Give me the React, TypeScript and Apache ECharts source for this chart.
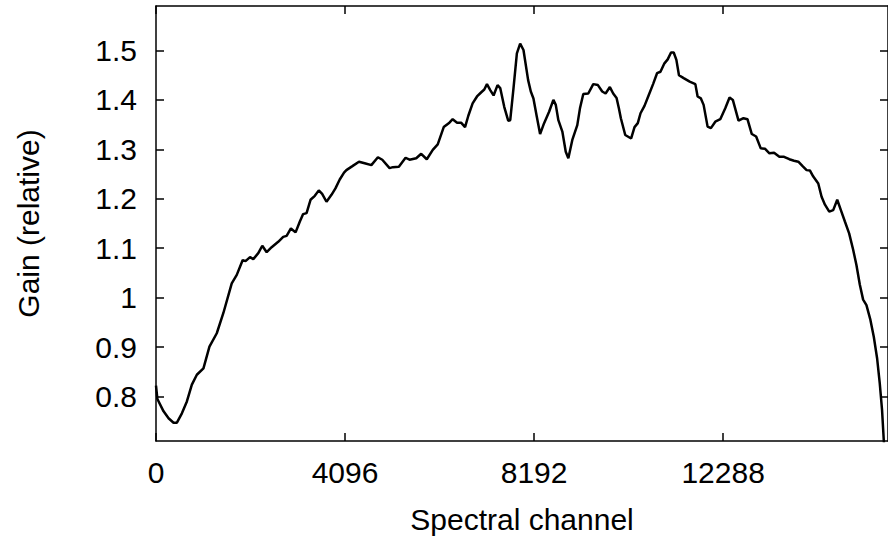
import React, { useEffect, useRef } from "react";
import * as echarts from "echarts";

const channels = [
  0, 30, 164, 272, 380, 453, 561, 669, 777, 885, 1028, 1158, 1317, 1460, 1641, 1750, 1879, 1940,
  2037, 2108, 2216, 2303, 2398, 2506, 2648, 2756, 2830, 2923, 3024, 3117, 3188, 3262, 3348, 3441,
  3527, 3600, 3694, 3802, 3888, 3981, 4074, 4125, 4255, 4398, 4521, 4666, 4808, 4903, 5061, 5132,
  5262, 5407, 5493, 5638, 5746, 5867, 5997, 6104, 6234, 6357, 6428, 6523, 6610, 6696, 6767, 6860,
  6955, 7042, 7113, 7171, 7242, 7314, 7400, 7458, 7545, 7631, 7675, 7746, 7819, 7890, 7962, 8063,
  8121, 8178, 8251, 8322, 8409, 8517, 8610, 8662, 8718, 8804, 8878, 8934, 9020, 9128, 9186, 9258,
  9366, 9474, 9575, 9668, 9741, 9834, 9906, 9979, 10029, 10072, 10167, 10295, 10368, 10439, 10498,
  10584, 10677, 10770, 10856, 10930, 11016, 11087, 11159, 11217, 11275, 11331, 11433, 11563, 11686,
  11735, 11806, 11865, 11951, 12023, 12118, 12226, 12334, 12427, 12498, 12621, 12729, 12815, 12909,
  13003, 13103, 13198, 13291, 13392, 13506, 13608, 13722, 13824, 13917, 14010, 14096, 14170, 14241,
  14349, 14421, 14494, 14587, 14673, 14760, 14839, 14926, 15018, 15105, 15176, 15250, 15321, 15393,
  15479, 15552, 15623, 15681, 15731, 15768, 15790,
];

const gains = [
  0.822, 0.795, 0.77, 0.756, 0.747, 0.747, 0.766, 0.79, 0.824, 0.844, 0.857, 0.901, 0.928, 0.969,
  1.029, 1.046, 1.076, 1.074, 1.082, 1.078, 1.09, 1.105, 1.092, 1.102, 1.113, 1.123, 1.125, 1.14,
  1.132, 1.154, 1.169, 1.171, 1.198, 1.206, 1.217, 1.21, 1.194, 1.208, 1.221, 1.239, 1.253, 1.258,
  1.266, 1.275, 1.272, 1.268, 1.284, 1.279, 1.262, 1.264, 1.265, 1.283, 1.279, 1.282, 1.291, 1.28,
  1.299, 1.31, 1.345, 1.354, 1.361, 1.354, 1.354, 1.345, 1.368, 1.393, 1.407, 1.415, 1.421, 1.432,
  1.42, 1.409, 1.43, 1.424, 1.386, 1.358, 1.359, 1.424, 1.494, 1.514, 1.501, 1.44, 1.417, 1.403,
  1.366, 1.331, 1.353, 1.376, 1.4, 1.39, 1.359, 1.336, 1.295, 1.282, 1.319, 1.349, 1.383, 1.412,
  1.413, 1.432, 1.43, 1.417, 1.413, 1.426, 1.413, 1.404, 1.383, 1.363, 1.329, 1.322, 1.345, 1.353,
  1.373, 1.388, 1.41, 1.432, 1.454, 1.457, 1.474, 1.482, 1.496, 1.496, 1.481, 1.45, 1.444, 1.437,
  1.432, 1.407, 1.403, 1.39, 1.346, 1.343, 1.356, 1.361, 1.383, 1.405, 1.4, 1.358, 1.363, 1.361,
  1.331, 1.326, 1.302, 1.301, 1.292, 1.293, 1.285, 1.285, 1.28, 1.277, 1.275, 1.266, 1.258, 1.257,
  1.245, 1.231, 1.204, 1.188, 1.174, 1.177, 1.198, 1.177, 1.154, 1.13, 1.097, 1.066, 1.026, 0.996,
  0.985, 0.955, 0.921, 0.878, 0.827, 0.773, 0.712, 0.68,
];

const xTicks = [0, 4096, 8192, 12288];
const yTicks = [0.8, 0.9, 1, 1.1, 1.2, 1.3, 1.4, 1.5];

const FONT = "'Liberation Sans', Arial, sans-serif";
const FS = 30;

export default function App() {
  const ref = useRef<HTMLDivElement>(null);
  useEffect(() => {
    if (!ref.current) return;
    const chart = echarts.init(ref.current, null, { renderer: "svg" });
    const data = channels.map((c, i) => [c, gains[i]]);
    const line = { show: true, onZero: false, lineStyle: { color: "#000", width: 1.5 } };
    const tick = (vals: number[]) => ({
      show: true,
      inside: true,
      length: 8,
      customValues: vals,
      lineStyle: { color: "#000", width: 1.5 },
    });
    const xMin = 0;
    const xMax = 15860;
    const yMin = 0.71;
    const yMax = 1.59;
    chart.setOption({
      animation: false,
      backgroundColor: "#ffffff",
      grid: { left: 156, top: 6, right: -2, bottom: 101, containLabel: false },
      xAxis: [
        {
          type: "value",
          min: xMin,
          max: xMax,
          position: "bottom",
          name: "Spectral channel",
          nameLocation: "middle",
          nameGap: 63,
          nameTextStyle: { fontFamily: FONT, fontSize: FS, color: "#000" },
          axisLine: line,
          axisTick: tick(xTicks),
          axisLabel: {
            customValues: xTicks,
            formatter: (v: number) => String(v),
            fontFamily: FONT,
            fontSize: FS,
            color: "#000",
            margin: 16,
          },
          splitLine: { show: false },
        },
        {
          type: "value",
          min: xMin,
          max: xMax,
          position: "top",
          axisLine: line,
          axisTick: tick(xTicks),
          axisLabel: { show: false },
          splitLine: { show: false },
        },
      ],
      yAxis: [
        {
          type: "value",
          min: yMin,
          max: yMax,
          position: "left",
          name: "Gain (relative)",
          nameLocation: "middle",
          nameGap: 113,
          nameTextStyle: { fontFamily: FONT, fontSize: FS, color: "#000" },
          axisLine: line,
          axisTick: tick(yTicks),
          axisLabel: {
            customValues: yTicks,
            formatter: (v: number) => String(Math.round(v * 10) / 10),
            fontFamily: FONT,
            fontSize: FS,
            color: "#000",
            margin: 19,
            padding: [4, 0, 0, 0],
          },
          splitLine: { show: false },
        },
        {
          type: "value",
          min: yMin,
          max: yMax,
          position: "right",
          axisLine: line,
          axisTick: tick(yTicks),
          axisLabel: { show: false },
          splitLine: { show: false },
        },
      ],
      series: [
        {
          type: "line",
          xAxisIndex: 0,
          yAxisIndex: 0,
          data,
          symbol: "none",
          showSymbol: false,
          clip: true,
          lineStyle: { color: "#000", width: 2.5 },
        },
      ],
    });
    return () => chart.dispose();
  }, []);
  return (
    <div
      ref={ref}
      style={{ position: "absolute", left: 0, top: 0, width: 888, height: 542, background: "#fff" }}
    />
  );
}
